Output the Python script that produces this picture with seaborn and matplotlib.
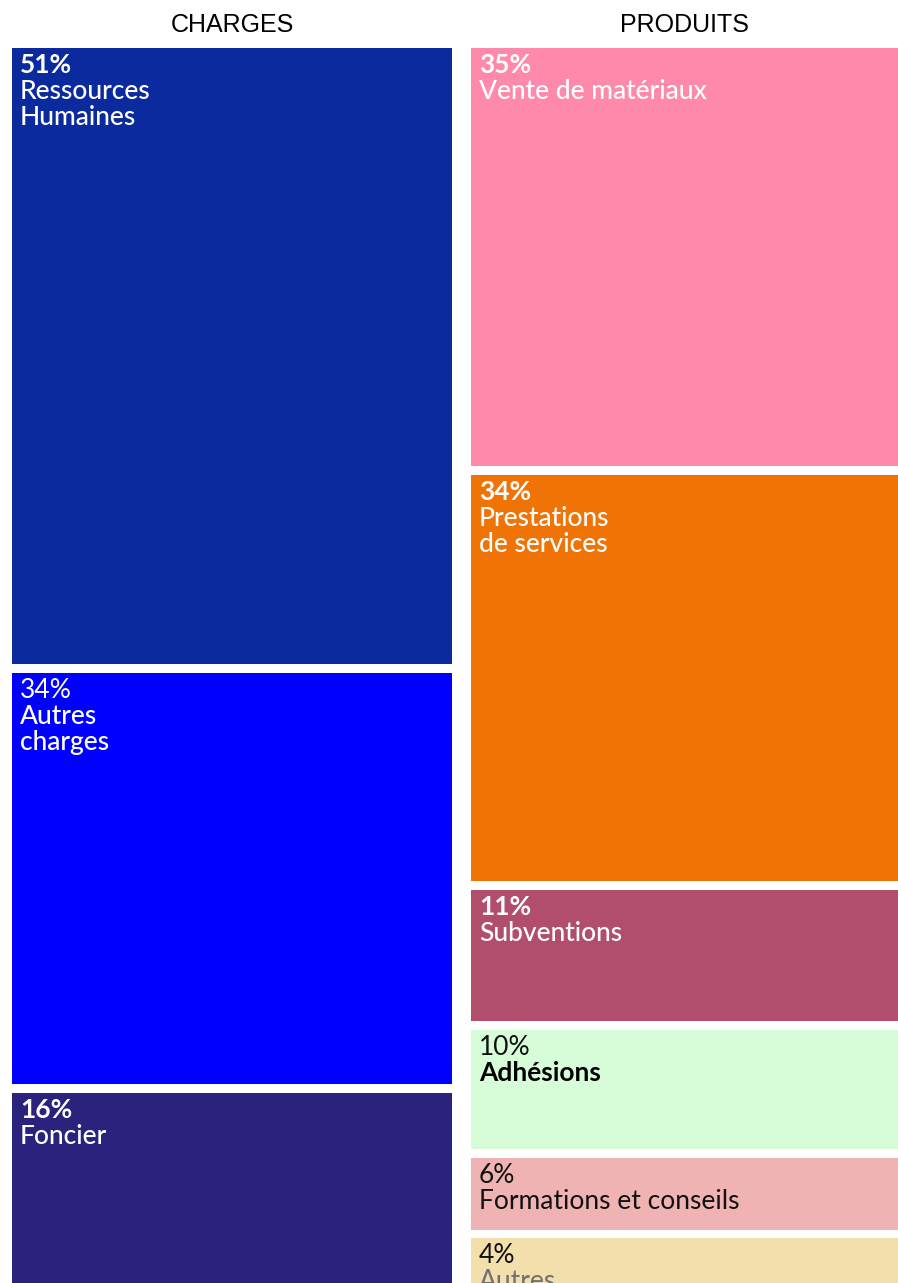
import matplotlib
matplotlib.use("Agg")
import matplotlib.pyplot as plt
import seaborn as sns
import numpy as np

sns.set_theme(style="white")
plt.rcParams['font.family'] = ['Lato', 'DejaVu Sans']

# --- data ---
charges_labels = ["Ressources\nHumaines", "Autres\ncharges", "Foncier"]
charges_pct = [51, 34, 16]
charges_colors = ["#0B2A9D", "#0000FF", "#2A227C"]

produits_labels = ["Vente de matériaux", "Prestations\nde services", "Subventions",
                   "Adhésions", "Formations et conseils", "Autres"]
produits_pct = [35, 34, 11, 10, 6, 4]
produits_colors = ["#FF89AB", "#F07306", "#B04E6C", "#D6FCD8", "#F0B3B3", "#F2DFAC"]

# text styles per box (pct weight, label weight, pct colour, label colour)
charges_style = [("bold", "medium", "white", "white"),
                 ("normal", "medium", "white", "white"),
                 ("bold", "medium", "white", "white")]
produits_style = [("bold", "medium", "white", "white"),
                  ("bold", "medium", "white", "white"),
                  ("bold", "medium", "white", "white"),
                  ("normal", "bold", "#111111", "#000000"),
                  ("normal", "normal", "#111111", "#111111"),
                  ("normal", "normal", "#111111", "#707070")]

W, Hpx = 898, 1283
fig = plt.figure(figsize=(W / 100, Hpx / 100), dpi=100)
ax = fig.add_axes([0, 0, 1, 1])
ax.set_xlim(0, W)
ax.set_ylim(Hpx, 0)
ax.axis('off')

TOP, BOTTOM = 48, 1286
LINE = 26


def draw_column(x0, x1, title, labels, pct, colors, styles, gap):
    vals = np.array(pct, dtype=float)
    avail = (BOTTOM - TOP) - gap * (len(vals) - 1)
    heights = vals / vals.sum() * avail
    bottoms = TOP + np.concatenate([[0], np.cumsum(heights + gap)[:-1]])
    ax.bar(x0, heights, width=x1 - x0, bottom=bottoms, align='edge',
           color=colors, linewidth=0)
    ax.text((x0 + x1) / 2, 25, title, ha='center', va='center', fontsize=18,
            family=['Liberation Sans', 'DejaVu Sans'], color='black')
    for lab, p, b, st in zip(labels, pct, bottoms, styles):
        pw, lw, pc, lc = st
        ax.text(x0 + 8, b + 5, f"{p}%", ha='left', va='top', fontsize=19,
                fontweight=pw, color=pc)
        ax.text(x0 + 8, b + 5 + LINE, lab, ha='left', va='top', fontsize=19,
                fontweight=lw, color=lc, linespacing=1.05)


draw_column(12, 452, "CHARGES", charges_labels, charges_pct, charges_colors,
            charges_style, 9)
draw_column(471, 898, "PRODUITS", produits_labels, produits_pct, produits_colors,
            produits_style, 8.5)

fig.savefig("out.png", dpi=100, facecolor="white")
